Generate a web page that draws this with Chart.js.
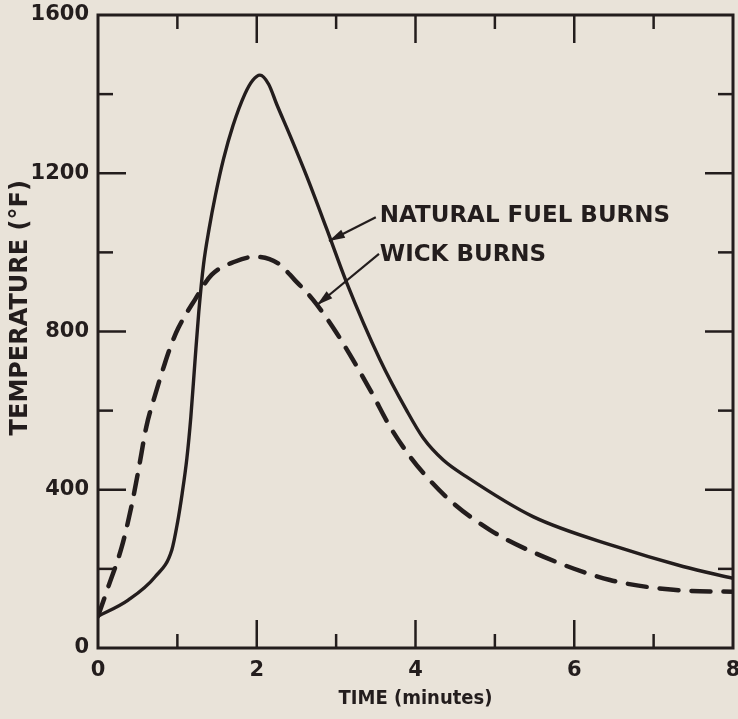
<!DOCTYPE html>
<html><head><meta charset="utf-8">
<script src="https://cdn.jsdelivr.net/npm/chart.js@4.4.0/dist/chart.umd.min.js"></script>
<style>html,body{margin:0;padding:0;background:#e9e3d9;}#wrap{width:738px;height:719px;}</style>
</head><body><div id="wrap"><canvas id="c" width="738" height="719"></canvas></div>
<script>
// ---- data ----
const xTicks = [0, 2, 4, 6, 8];
const yTicks = [0, 400, 800, 1200, 1600];
const naturalTime = [0, 0.38, 0.72, 0.93, 1.00, 1.06, 1.12, 1.17, 1.22, 1.27, 1.33, 1.40, 1.48, 1.58, 1.70, 1.85, 1.95, 2.04, 2.15, 2.25, 2.42, 2.63, 2.88, 3.13, 3.55, 3.89, 4.10, 4.35, 4.64, 5.48, 6.53, 7.37, 8.0];
const naturalTemp = [80, 121, 180, 248, 315, 390, 480, 585, 720, 850, 970, 1060, 1145, 1235, 1320, 1400, 1435, 1448, 1425, 1375, 1295, 1192, 1060, 925, 730, 600, 530, 475, 433, 332, 256, 206, 176];
const wickTime = [0, 0.13, 0.30, 0.42, 0.51, 0.61, 0.72, 0.84, 0.92, 1.01, 1.22, 1.43, 1.73, 1.98, 2.27, 2.48, 2.71, 3.01, 3.43, 3.68, 3.93, 4.10, 4.43, 4.94, 5.61, 6.45, 7.25, 8.0];
const wickTemp = [80, 155, 256, 357, 450, 560, 640, 718, 765, 808, 880, 943, 977, 989, 972, 930, 880, 795, 652, 559, 484, 442, 374, 298, 231, 172, 147, 142];
const seriesNames = ['NATURAL FUEL BURNS', 'WICK BURNS'];
const xTitle = 'TIME (minutes)';
const yTitle = 'TEMPERATURE (°F)';

// ---- style / annotation placement (data coordinates) ----
const INK = '#231d1d';
const FONT = 'DejaVu Sans';
const labelAnchors = [
  { text: [3.55, 1077], from: [3.50, 1089], tip: [2.91, 1029] },
  { text: [3.55, 978], from: [3.54, 996], tip: [2.76, 867] }
];

const toPts = (xs, ys) => xs.map((x, i) => ({ x: x, y: ys[i] }));
const minorOf = arr => arr.slice(1).map((v, i) => (v + arr[i]) / 2);
const noPad = s => { s.paddingLeft = 0; s.paddingRight = 0; s.paddingTop = 0; s.paddingBottom = 0; };

const decor = {
  id: 'decor',
  afterDraw(chart) {
    const ctx = chart.ctx, a = chart.chartArea;
    const xs = chart.scales.x, ys = chart.scales.y;
    ctx.save();
    ctx.strokeStyle = INK; ctx.fillStyle = INK;
    ctx.lineWidth = 3;
    ctx.strokeRect(a.left, a.top, a.right - a.left, a.bottom - a.top);
    ctx.lineWidth = 2.5;
    const seg = (x1, y1, x2, y2) => { ctx.beginPath(); ctx.moveTo(x1, y1); ctx.lineTo(x2, y2); ctx.stroke(); };
    xTicks.slice(1, -1).forEach(v => { const p = xs.getPixelForValue(v); seg(p, a.bottom, p, a.bottom - 28); seg(p, a.top, p, a.top + 28); });
    minorOf(xTicks).forEach(v => { const p = xs.getPixelForValue(v); seg(p, a.bottom, p, a.bottom - 14); seg(p, a.top, p, a.top + 14); });
    yTicks.slice(1, -1).forEach(v => { const p = ys.getPixelForValue(v); seg(a.left, p, a.left + 28, p); seg(a.right, p, a.right - 28, p); });
    minorOf(yTicks).forEach(v => { const p = ys.getPixelForValue(v); seg(a.left, p, a.left + 15, p); seg(a.right, p, a.right - 15, p); });
    // y title
    ctx.font = 'bold 24px "' + FONT + '"';
    ctx.textAlign = 'center'; ctx.textBaseline = 'middle';
    ctx.save();
    ctx.translate(21, ys.getPixelForValue(860));
    ctx.rotate(-Math.PI / 2);
    ctx.fillText(yTitle, 0, 0);
    ctx.restore();
    // series labels with leader arrows
    ctx.font = 'bold 23px "' + FONT + '"';
    ctx.textAlign = 'left'; ctx.textBaseline = 'alphabetic';
    labelAnchors.forEach((an, i) => {
      const tx = xs.getPixelForValue(an.text[0]), ty = ys.getPixelForValue(an.text[1]);
      ctx.fillText(seriesNames[i], tx, ty);
      const fx = xs.getPixelForValue(an.from[0]), fy = ys.getPixelForValue(an.from[1]);
      const px = xs.getPixelForValue(an.tip[0]), py = ys.getPixelForValue(an.tip[1]);
      ctx.lineWidth = 2.2;
      seg(fx, fy, px, py);
      const ang = Math.atan2(py - fy, px - fx);
      const L = 16, W = 4.5;
      const bx = px - L * Math.cos(ang), by = py - L * Math.sin(ang);
      ctx.beginPath();
      ctx.moveTo(px, py);
      ctx.lineTo(bx + W * Math.sin(ang), by - W * Math.cos(ang));
      ctx.lineTo(bx - W * Math.sin(ang), by + W * Math.cos(ang));
      ctx.closePath(); ctx.fill();
    });
    ctx.restore();
  }
};

const bg = {
  id: 'bg',
  beforeDraw(chart) { const c = chart.ctx; c.save(); c.fillStyle = '#e9e3d9'; c.fillRect(0, 0, chart.width, chart.height); c.restore(); }
};

new Chart(document.getElementById('c'), {
  type: 'line',
  data: {
    datasets: [
      { label: seriesNames[0], data: toPts(naturalTime, naturalTemp), borderColor: INK, borderWidth: 3.4, pointRadius: 0, cubicInterpolationMode: 'monotone', fill: false, borderCapStyle: 'round', borderJoinStyle: 'round' },
      { label: seriesNames[1], data: toPts(wickTime, wickTemp), borderColor: INK, borderWidth: 4.5, borderDash: [19, 13], borderCapStyle: 'round', pointRadius: 0, cubicInterpolationMode: 'monotone', fill: false }
    ]
  },
  options: {
    responsive: false, animation: false, devicePixelRatio: 1,
    layout: { autoPadding: false, padding: { left: 0, right: 5, top: 15, bottom: 0 } },
    plugins: { legend: { display: false }, tooltip: { enabled: false } },
    scales: {
      x: {
        type: 'linear', min: 0, max: 8,
        grid: { display: false, drawTicks: false }, border: { display: false },
        ticks: { stepSize: 2, padding: 10, color: INK, font: { family: FONT, weight: 'bold', size: 21 }, maxRotation: 0, autoSkip: false,
          callback: v => xTicks.includes(v) ? String(v) : '' },
        title: { display: true, text: xTitle, color: INK, font: { family: '"DejaVu Sans Condensed", "Liberation Sans Narrow", "Liberation Sans"', weight: 'bold', size: 20 }, padding: { top: 0, bottom: 8 } },
        afterFit: s => { s.height = 71; noPad(s); }
      },
      y: {
        type: 'linear', min: 0, max: 1600,
        grid: { display: false, drawTicks: false }, border: { display: false },
        ticks: { stepSize: 400, padding: 9, color: INK, font: { family: FONT, weight: 'bold', size: 21 },
          callback: v => yTicks.includes(v) ? String(v) : '' },
        afterFit: s => { s.width = 98; noPad(s); }
      }
    }
  },
  plugins: [bg, decor]
});
</script></body></html>
